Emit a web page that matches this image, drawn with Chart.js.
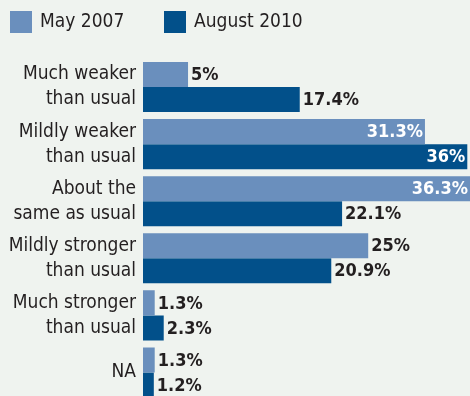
<!DOCTYPE html>
<html>
<head>
<meta charset="utf-8">
<script src="https://cdn.jsdelivr.net/npm/chart.js@4"></script>
<style>
  html, body { margin: 0; padding: 0; background: #eff3ef; overflow: hidden; }
  #wrap { width: 470px; height: 401px; }
</style>
</head>
<body>
<div id="wrap"><canvas id="chart" width="470" height="401"></canvas></div>
<script>
const categories = [
    ['Much weaker', 'than usual'],
    ['Mildly weaker', 'than usual'],
    ['About the', 'same as usual'],
    ['Mildly stronger', 'than usual'],
    ['Much stronger', 'than usual'],
    'NA'
];
const may2007 = [5, 31.3, 36.3, 25, 1.3, 1.3];
const aug2010 = [17.4, 36, 22.1, 20.9, 2.3, 1.2];
const seriesNames = ['May 2007', 'August 2010'];
const seriesColors = ['#6a8fbd', '#02508a'];

const FONT = '"Liberation Sans Narrow", "DejaVu Sans Condensed", Roboto, sans-serif';
const TEXT = '#231f20';

// legend drawn at the top, values written on/next to each bar
const labelsPlugin = {
    id: 'labels',
    afterDraw(chart) {
        const ctx = chart.ctx;
        ctx.save();
        // legend
        const legendX = [10, 164];
        chart.data.datasets.forEach((ds, i) => {
            ctx.fillStyle = ds.backgroundColor;
            ctx.fillRect(legendX[i], 11, 22, 22);
            ctx.fillStyle = TEXT;
            ctx.font = '19px ' + FONT;
            ctx.textAlign = 'left';
            ctx.textBaseline = 'middle';
            ctx.fillText(ds.label, legendX[i] + 30, 22);
        });
        // values
        ctx.font = 'bold 18px ' + FONT;
        ctx.textBaseline = 'middle';
        chart.data.datasets.forEach((ds, i) => {
            chart.getDatasetMeta(i).data.forEach((bar, j) => {
                const v = ds.data[j];
                const txt = v + '%';
                if (v > 30) {
                    ctx.fillStyle = '#ffffff';
                    ctx.textAlign = 'right';
                    ctx.fillText(txt, bar.x - 2, bar.y + 1);
                } else {
                    ctx.fillStyle = TEXT;
                    ctx.textAlign = 'left';
                    ctx.fillText(txt, bar.x + 3, bar.y + 1);
                }
            });
        });
        ctx.restore();
    }
};

new Chart(document.getElementById('chart').getContext('2d'), {
    type: 'bar',
    data: {
        labels: categories,
        datasets: [
            { label: seriesNames[0], data: may2007, backgroundColor: seriesColors[0] },
            { label: seriesNames[1], data: aug2010, backgroundColor: seriesColors[1] }
        ]
    },
    options: {
        indexAxis: 'y',
        responsive: false,
        animation: false,
        categoryPercentage: 50 / 57,
        barPercentage: 1,
        layout: { padding: { top: 58.5, right: 0, bottom: 0, left: 0 } },
        plugins: {
            legend: { display: false },
            tooltip: { enabled: false }
        },
        scales: {
            x: {
                display: false,
                min: 0,
                max: 36.3
            },
            y: {
                grid: { display: false, drawTicks: false },
                border: { display: false },
                ticks: {
                    color: TEXT,
                    padding: 7,
                    font: { family: FONT, size: 19, lineHeight: 25 / 19 }
                },
                afterFit(scale) {
                    scale.width = 143;
                    scale.paddingTop = 0;
                    scale.paddingBottom = 0;
                }
            }
        }
    },
    plugins: [labelsPlugin]
});
</script>
</body>
</html>
